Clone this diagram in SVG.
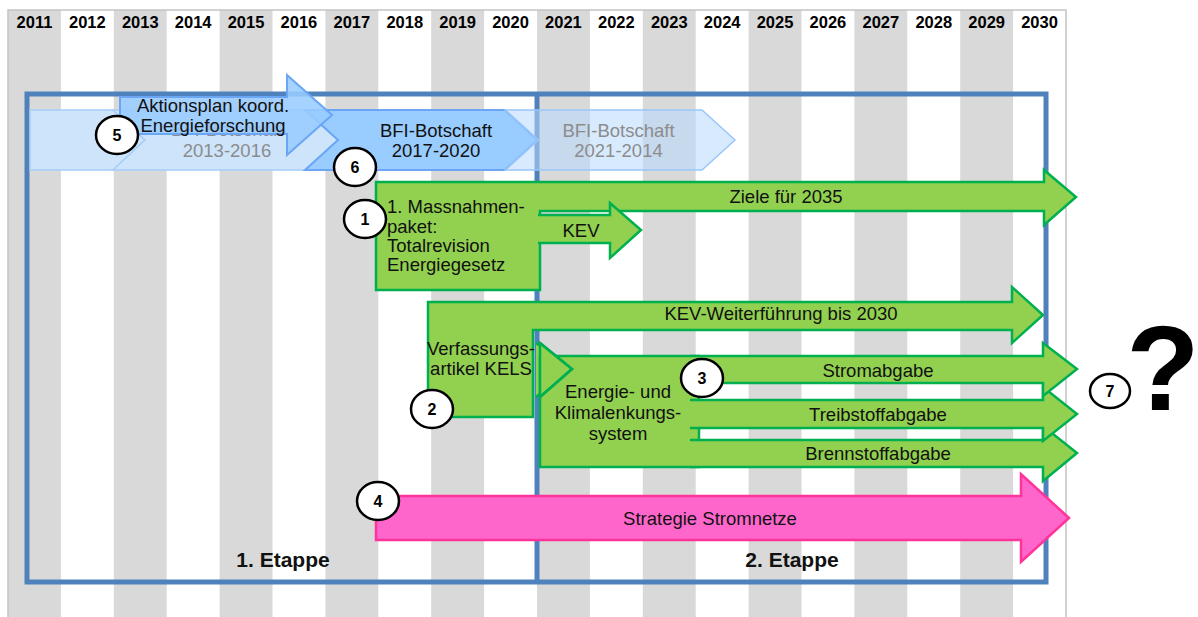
<svg xmlns="http://www.w3.org/2000/svg" width="1198" height="617" viewBox="0 0 1198 617">
<style>
text{font-family:"Liberation Sans",Arial,sans-serif;}
.yr{font-size:16.5px;font-weight:bold;fill:#000;text-anchor:middle;}
.t{font-size:18.5px;fill:#111;}
.m{text-anchor:middle;}
.g{fill:#8c8c8c;}
.stripe{fill:#d9d9d9;}
.grn{fill:#92d050;stroke:#00b050;stroke-width:2.5;stroke-linejoin:miter;}
.nf{fill:none;stroke:#00b050;stroke-width:2.5;}
.pink{fill:#ff66cc;stroke:#ff3399;stroke-width:2.5;}
.blt{fill:#cde4fb;stroke:#a8cdf6;stroke-width:1.5;}
.bmd{fill:#99ccff;stroke:#6aa6f5;stroke-width:2;}
.num ellipse{fill:#fff;stroke:#000;stroke-width:2.5;}
.num text{font-size:16px;font-weight:bold;text-anchor:middle;fill:#000;}
.et{font-size:21px;font-weight:bold;text-anchor:middle;fill:#111;}
</style>
<rect width="1198" height="617" fill="#fff"/>
<g id="timeline">
<rect class="stripe" x="8" y="10" width="52.9" height="607"/>
<rect class="stripe" x="113.8" y="10" width="52.9" height="607"/>
<rect class="stripe" x="219.6" y="10" width="52.9" height="607"/>
<rect class="stripe" x="325.4" y="10" width="52.9" height="607"/>
<rect class="stripe" x="431.2" y="10" width="52.9" height="607"/>
<rect class="stripe" x="537" y="10" width="52.9" height="607"/>
<rect class="stripe" x="642.8" y="10" width="52.9" height="607"/>
<rect class="stripe" x="748.6" y="10" width="52.9" height="607"/>
<rect class="stripe" x="854.4" y="10" width="52.9" height="607"/>
<rect class="stripe" x="960.2" y="10" width="52.9" height="607"/>
<path d="M8,617 V10 H1066 V617" fill="none" stroke="#c4c4c4" stroke-width="1.5"/>
<text class="yr" x="34.45" y="28">2011</text>
<text class="yr" x="87.35" y="28">2012</text>
<text class="yr" x="140.25" y="28">2013</text>
<text class="yr" x="193.15" y="28">2014</text>
<text class="yr" x="246.05" y="28">2015</text>
<text class="yr" x="298.95" y="28">2016</text>
<text class="yr" x="351.85" y="28">2017</text>
<text class="yr" x="404.75" y="28">2018</text>
<text class="yr" x="457.65" y="28">2019</text>
<text class="yr" x="510.55" y="28">2020</text>
<text class="yr" x="563.45" y="28">2021</text>
<text class="yr" x="616.35" y="28">2022</text>
<text class="yr" x="669.25" y="28">2023</text>
<text class="yr" x="722.15" y="28">2024</text>
<text class="yr" x="775.05" y="28">2025</text>
<text class="yr" x="827.95" y="28">2026</text>
<text class="yr" x="880.85" y="28">2027</text>
<text class="yr" x="933.75" y="28">2028</text>
<text class="yr" x="986.65" y="28">2029</text>
<text class="yr" x="1039.55" y="28">2030</text>
</g>
<g id="etappen">
<rect x="27" y="94" width="1019" height="488" fill="none" stroke="#4f81bd" stroke-width="5"/>
<line x1="537" y1="94" x2="537" y2="582" stroke="#4f81bd" stroke-width="5"/>
<text class="et" x="283" y="567">1. Etappe</text>
<text class="et" x="792" y="567">2. Etappe</text>
</g>
<g id="bfi-2011">
<polygon class="blt" points="30,110 113,110 145,140 113,170 30,170"/>
</g>
<g id="bfi-2013">
<polygon class="blt" points="113,110 305,110 338,140 305,170 113,170 145,140"/>
<text class="t m g" x="227" y="136">BFI-Botschaft</text>
<text class="t m g" x="227" y="157">2013-2016</text>
</g>
<g id="bfi-2017">
<polygon class="bmd" points="305,110 505,110 538,140 505,170 305,170 338,140"/>
<text class="t m" x="436" y="137">BFI-Botschaft</text>
<text class="t m" x="436" y="157">2017-2020</text>
</g>
<g id="bfi-2021">
<polygon points="505,110 702,110 735,140 702,170 505,170 538,140" fill="#b8d9fc" fill-opacity="0.55" stroke="#99c6fa" stroke-width="1.5"/>
<text class="t m g" x="618.5" y="137">BFI-Botschaft</text>
<text class="t m g" x="618.5" y="157">2021-2014</text>
</g>
<g id="aktionsplan">
<polygon points="120,97 287,97 287,75 332,115 287,155 287,134 120,134" fill="#99ccff" fill-opacity="0.88" stroke="#6aa6f5" stroke-width="2"/>
<text class="t m" x="213" y="112">Aktionsplan koord.</text>
<text class="t m" x="213" y="132">Energieforschung</text>
</g>
<g id="connectors">
<path d="M536,343 L572,369 L536,397" class="grn"/>
</g>
<g id="massnahmenpaket">
<path class="grn" d="M376,182 H1044 V170 L1076,197 L1044,225 V211 H540 V290 H376 Z"/>
<path class="grn" d="M538,215 H610 V203 L641,230 L610,258 V243 H538"/>
<text class="t" x="387" y="213">1. Massnahmen-</text>
<text class="t" x="387" y="233">paket:</text>
<text class="t" x="387" y="252">Totalrevision</text>
<text class="t" x="387" y="271">Energiegesetz</text>
<text class="t m" x="581" y="237">KEV</text>
<text class="t m" x="786" y="203">Ziele für 2035</text>
</g>
<g id="verfassungsartikel">
<path class="grn" d="M428,302 H1012 V287 L1043,315 L1012,343 V330 H533 V417 H428 Z"/>
<text class="t m" x="481" y="355">Verfassungs-</text>
<text class="t m" x="481" y="375">artikel KELS</text>
<text class="t m" x="781" y="320">KEV-Weiterführung bis 2030</text>
</g>
<g id="lenkungssystem">
<path class="grn" d="M700,356 H540 V467 H700"/>
<path class="grn" d="M690,440 H1043 V426 L1077,453 L1043,481 V467 H690"/>
<path class="grn" d="M690,400 H1043 V387 L1077,414 L1043,441 V428 H690"/>
<path class="grn" d="M690,356 H1043 V343 L1077,369 L1043,396 V383 H690"/>
<path class="nf" d="M699,383 V400 M699,428 V440"/>
<path class="grn" d="M540,343 L572,369 L540,397 Z" stroke="none"/>
<path class="nf" d="M540,343 L572,369 L540,397"/>
<text class="t m" x="618" y="398">Energie- und</text>
<text class="t m" x="618" y="419">Klimalenkungs-</text>
<text class="t m" x="618" y="440">system</text>
<text class="t m" x="878" y="377">Stromabgabe</text>
<text class="t m" x="878" y="421">Treibstoffabgabe</text>
<text class="t m" x="878" y="460">Brennstoffabgabe</text>
</g>
<g id="stromnetze">
<path class="pink" d="M376,496 H1021 V474 L1069,518 L1021,562 V540 H376 Z"/>
<text class="t m" x="710" y="525">Strategie Stromnetze</text>
</g>
<g id="n5" class="num"><ellipse cx="117" cy="135" rx="21" ry="19"/><text x="117" y="141">5</text></g>
<g id="n6" class="num"><ellipse cx="355" cy="167" rx="21" ry="19"/><text x="355" y="173">6</text></g>
<g id="n1" class="num"><ellipse cx="365" cy="219" rx="21" ry="19"/><text x="365" y="225">1</text></g>
<g id="n2" class="num"><ellipse cx="432" cy="409" rx="21" ry="19"/><text x="432" y="415">2</text></g>
<g id="n3" class="num"><ellipse cx="702" cy="378" rx="21" ry="19"/><text x="702" y="384">3</text></g>
<g id="n4" class="num"><ellipse cx="378" cy="501" rx="21" ry="19"/><text x="378" y="507">4</text></g>
<g id="n7" class="num"><ellipse cx="1110" cy="391" rx="20" ry="17"/><text x="1110" y="397">7</text></g>
<g id="question"><text x="1163" y="410" font-size="120" font-weight="bold" text-anchor="middle" fill="#000">?</text></g>
</svg>
